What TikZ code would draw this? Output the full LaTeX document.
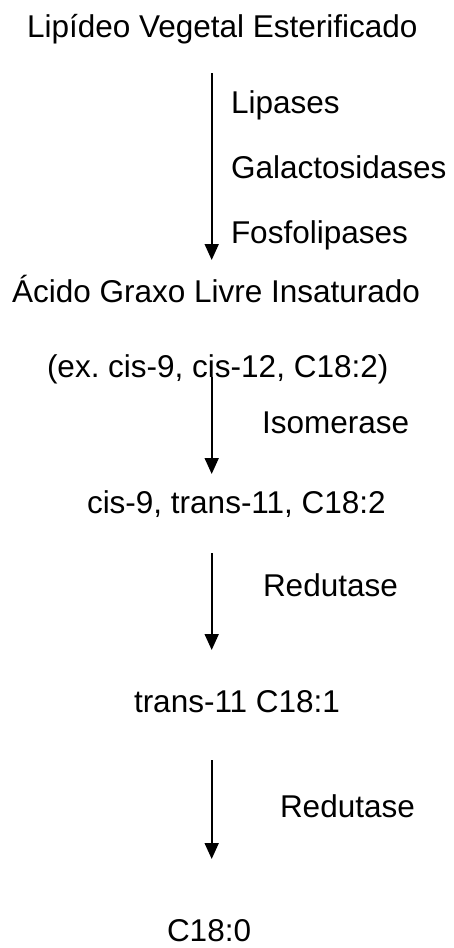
\documentclass[tikz,border=0pt]{standalone}
\usepackage{fontspec}
\setmainfont{Liberation Sans}
\usetikzlibrary{arrows.meta}
\frenchspacing
\begin{document}
\begin{tikzpicture}[x=1bp,y=-1bp,
  lbl/.style={anchor=base west,inner sep=0pt,outer sep=0pt,font=\fontsize{31.5bp}{36bp}\selectfont},
  flow/.style={line width=1.8bp,-{Triangle[width=14bp,length=16bp]}}]
\useasboundingbox (0,0) rectangle (454,948);
\node[lbl] (t1) at (27,37) {Lipídeo Vegetal Esterificado};
\node[lbl] (e1a) at (231,113) {Lipases};
\node[lbl] (e1b) at (231,178) {Galactosidases};
\node[lbl] (e1c) at (231,243) {Fosfolipases};
\node[lbl] (t2) at (12,302) {Ácido Graxo Livre Insaturado};
\node[lbl] (t2b) at (47,377) {(ex.\ cis-9, cis-12, C18:2)};
\node[lbl] (e2) at (262,433) {Isomerase};
\node[lbl] (t3) at (87,513) {cis-9, trans-11, C18:2};
\node[lbl] (e3) at (263,596) {Redutase};
\node[lbl] (t4) at (134,712) {trans-11 C18:1};
\node[lbl] (e4) at (280,817) {Redutase};
\node[lbl] (t5) at (167,941) {C18:0};
\coordinate (a1s) at (211.7,73);
\coordinate (a1e) at (211.7,260);
\coordinate (a2s) at (211.7,377);
\coordinate (a2e) at (211.7,474);
\coordinate (a3s) at (211.7,553);
\coordinate (a3e) at (211.7,650);
\coordinate (a4s) at (211.7,760);
\coordinate (a4e) at (211.7,859);
\draw[flow] (a1s) -- (a1e);
\draw[flow] (a2s) -- (a2e);
\draw[flow] (a3s) -- (a3e);
\draw[flow] (a4s) -- (a4e);
\end{tikzpicture}
\end{document}
